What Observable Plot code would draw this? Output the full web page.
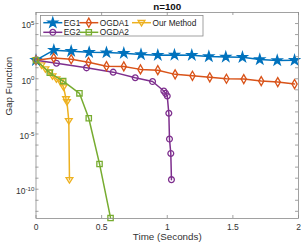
<!DOCTYPE html>
<html><head><meta charset="utf-8">
<script src="https://cdn.jsdelivr.net/npm/d3@7"></script>
<script src="https://cdn.jsdelivr.net/npm/@observablehq/plot@0.6"></script>
<style>
body{margin:0;background:#fff}
svg{font-family:"Liberation Sans",Arial,Helvetica,sans-serif}
</style>
</head><body><div id="chart"></div>
<script>
// ---- data ----
const title = "n=100";
const xLabel = "Time (Seconds)";
const yLabel = "Gap Function";
const seriesNames = ["EG1", "EG2", "OGDA1", "OGDA2", "Our Method"];
const seriesColors = ["#0072BD", "#7E2F8E", "#D95319", "#77AC30", "#EDB120"];

const timeEG1 = [0, 0.136, 0.268, 0.405, 0.537, 0.669, 0.80, 0.928, 1.055, 1.187, 1.317, 1.446, 1.573, 1.705, 1.838, 1.97];
const gapEG1 = [47.9, 389, 316, 251, 234, 209, 158, 138, 145, 138, 105, 95.5, 89.1, 56.2, 45.7, 47.9];

const timeEG2 = [0, 0.156, 0.385, 0.588, 0.756, 0.888, 0.974, 0.987, 1.0, 1.012, 1.017, 1.027, 1.032];
const gapEG2 = [47.9, 25.7, 9.77, 3.98, 1.23, 0.562, 0.0776, 0.0479, 0.0275, 7.6e-4, 3.5e-6, 1.74e-7, 7.4e-10];

const timeOGDA1 = [0, 0.135, 0.268, 0.400, 0.537, 0.669, 0.796, 0.928, 1.06, 1.192, 1.324, 1.451, 1.583, 1.716, 1.842, 1.97];
const gapOGDA1 = [47.9, 77.6, 58.9, 31.6, 13.8, 13.2, 7.08, 6.03, 2.51, 1.86, 1.35, 1.0, 0.933, 0.617, 0.501, 0.331];

const timeOGDA2 = [0, 0.105, 0.207, 0.331, 0.402, 0.484, 0.568];
const gapOGDA2 = [47.9, 3.47, 0.617, 0.0479, 2.69e-4, 1.95e-8, 2.5e-13];

const timeOurs = [0, 0.042, 0.072, 0.103, 0.126, 0.156, 0.187, 0.21, 0.229, 0.236, 0.25, 0.255];
const gapOurs = [47.9, 17.0, 7.41, 3.98, 1.74, 0.933, 0.501, 0.178, 0.0148, 0.00794, 1.55e-4, 7.1e-10];

const xTicks = [0, 0.5, 1, 1.5, 2];
const yTickLabels = [1e5, 1, 1e-5, 1e-10];
const yTickMarks = d3.range(-12, 6).map(e => Math.pow(10, e));

// ---- layout ----
const W = 301, H = 245, mL = 35.5, mR = 3, mT = 12, mB = 27;
const innerW = W - mL - mR, innerH = H - mT - mB;
const frameColor = "#8a8a8a", textColor = "#333333";

const triDown = {
  draw(ctx, size) {
    const r = Math.sqrt(size / Math.PI);
    ctx.moveTo(0, r * 0.95);
    ctx.lineTo(-r * 1.0, -r * 0.65);
    ctx.lineTo(r * 1.0, -r * 0.65);
    ctx.closePath();
  }
};
const symbols = [d3.symbolStar, "circle", "diamond", "square", triDown];
const radii = [3.0, 2.9, 2.75, 3.0, 3.4];
const fills = [true, false, false, false, false];

const times = [timeEG1, timeEG2, timeOGDA1, timeOGDA2, timeOurs];
const gaps = [gapEG1, gapEG2, gapOGDA1, gapOGDA2, gapOurs];
const series = seriesNames.map((name, i) => ({
  name, color: seriesColors[i], symbol: symbols[i], r: radii[i], fill: fills[i],
  data: times[i].map((t, j) => ({t, g: gaps[i][j]}))
}));
// drawing order: Our Method below the others
const drawOrder = [4, 0, 1, 2, 3];

const marks = [];
for (const i of drawOrder) {
  const s = series[i];
  marks.push(Plot.line(s.data, {x: "t", y: "g", stroke: s.color, strokeWidth: 1.5}));
  marks.push(Plot.dot(s.data, {x: "t", y: "g", symbol: () => s.symbol, r: s.r,
    stroke: s.color, fill: s.fill ? s.color : "none", strokeWidth: 1.3}));
}

const chart = Plot.plot({
  width: W, height: H,
  marginLeft: mL, marginRight: mR, marginTop: mT, marginBottom: mB,
  style: {fontFamily: '"Liberation Sans",Arial,sans-serif', background: "#fff"},
  x: {domain: [0, 2]},
  y: {type: "log", domain: [Math.pow(10, -12.65), 1e6]},
  symbol: {type: "identity"},
  marks: [
    ...marks,
    // inward tick marks
    Plot.tickY(yTickMarks, {y: d => d, insetRight: innerW - 3, stroke: frameColor, strokeWidth: 0.8}),
    Plot.tickY(yTickMarks, {y: d => d, insetLeft: innerW - 3, stroke: frameColor, strokeWidth: 0.8}),
    Plot.tickX(xTicks, {x: d => d, insetTop: innerH - 3, stroke: frameColor, strokeWidth: 0.8}),
    Plot.tickX(xTicks, {x: d => d, insetBottom: innerH - 3, stroke: frameColor, strokeWidth: 0.8}),
    Plot.frame({stroke: frameColor, strokeWidth: 0.8}),
    Plot.axisY(yTickLabels, {anchor: "left", tickSize: 0, tickPadding: 1.5, fontSize: 8.5, fill: textColor,
      tickFormat: d => "10^" + Math.round(Math.log10(d)), dy: 2, label: null}),
    Plot.axisX(xTicks, {anchor: "bottom", tickSize: 0, tickPadding: 5, fontSize: 8.5, fill: textColor,
      tickFormat: d => String(d), label: null}),
    Plot.text([yLabel], {text: d => d, frameAnchor: "left", rotate: -90, dx: -27, fontSize: 9.8, fill: textColor}),
    Plot.text([xLabel], {text: d => d, frameAnchor: "bottom", dy: 21, fontSize: 9.8, fill: textColor}),
    Plot.text([title], {text: d => d, frameAnchor: "top", dy: -3, lineAnchor: "bottom", fontSize: 9.8, fontWeight: "bold", fill: "#111"})
  ]
});

// superscript exponents for log tick labels
d3.select(chart).selectAll('g[aria-label="y-axis tick label"] text').each(function() {
  const txt = this.textContent;
  const m = txt.match(/^10\^(-?\d+)$/);
  if (!m) return;
  const sel = d3.select(this);
  sel.text(null);
  sel.append("tspan").text("10");
  sel.append("tspan").attr("dy", "-0.5em").attr("font-size", "6.2px").text(m[1]);
});

// legend (drawn in the SVG)
const svg = d3.select(chart);
const lg = svg.append("g").attr("font-size", "8.3px").attr("fill", "#222").attr("text-anchor", "start");
const box = {x: 40.5, y: 15.5, w: 162.5, h: 20.5};
lg.append("rect").attr("x", box.x).attr("y", box.y).attr("width", box.w).attr("height", box.h)
  .attr("fill", "#fff").attr("stroke", frameColor).attr("stroke-width", 0.8);
const colX = [43.3, 79.3, 132];
const rowY = [22.7, 32.3];
const legendPos = [[0, 0], [0, 1], [1, 0], [1, 1], [2, 0]];
series.forEach((s, i) => {
  const [c, r] = legendPos[i];
  const x0 = colX[c], y0 = rowY[r];
  lg.append("line").attr("x1", x0).attr("x2", x0 + 19).attr("y1", y0).attr("y2", y0)
    .attr("stroke", s.color).attr("stroke-width", 1.5);
  const symType = typeof s.symbol === "string"
    ? ({circle: d3.symbolCircle, diamond: d3.symbolDiamond, square: d3.symbolSquare})[s.symbol]
    : s.symbol;
  lg.append("path").attr("transform", `translate(${x0 + 9.5},${y0})`)
    .attr("d", d3.symbol(symType, Math.PI * s.r * s.r)())
    .attr("stroke", s.color).attr("stroke-width", 1.3).attr("fill", s.fill ? s.color : "none");
  lg.append("text").attr("x", x0 + 20.5).attr("y", y0).attr("dy", "0.34em").attr("text-anchor", "start").text(s.name);
});

document.getElementById("chart").append(chart);
</script>
</body></html>
